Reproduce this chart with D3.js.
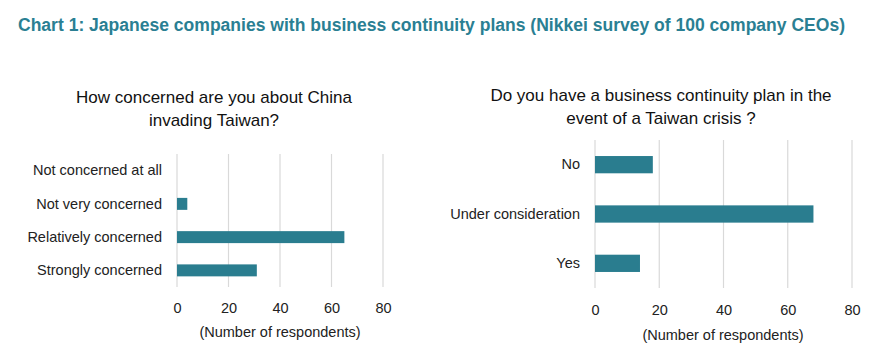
<!DOCTYPE html>
<html><head><meta charset="utf-8">
<script src="https://cdn.jsdelivr.net/npm/d3@7"></script>
<style>body{margin:0;background:#fff;}svg{display:block;}</style>
</head><body>
<svg id="c" width="876" height="355"></svg>
<script>
const mainTitle = "Chart 1: Japanese companies with business continuity plans (Nikkei survey of 100 company CEOs)";
const leftTitle = ["How concerned are you about China", "invading Taiwan?"];
const leftCategories = ["Not concerned at all", "Not very concerned", "Relatively concerned", "Strongly concerned"];
const leftValues = [0, 4, 65, 31];
const rightTitle = ["Do you have a business continuity plan in the", "event of a Taiwan crisis ?"];
const rightCategories = ["No", "Under consideration", "Yes"];
const rightValues = [18, 68, 14];
const xTicks = [0, 20, 40, 60, 80];
const axisTitle = "(Number of respondents)";

const svg = d3.select("#c");
const barColor = "#2a7d8f";
const font = "Liberation Sans, Arial, sans-serif";

const t = svg.append("text").attr("x", 18).attr("y", 31)
  .attr("font-family", "'Liberation Sans Narrow', 'Arial Narrow', 'Liberation Sans', Arial, sans-serif")
  .attr("font-weight", "bold").attr("font-size", 18).attr("fill", "#2a7f93")
  .text(mainTitle);
const tl = t.node().getComputedTextLength();
if (Math.abs(tl - 827) > 3) t.attr("textLength", 827).attr("lengthAdjust", "spacingAndGlyphs");

function panel(cfg) {
  const g = svg.append("g");
  const x = d3.scaleLinear().domain([0, 80]).range([cfg.x0, cfg.x1]);
  const y = d3.scaleBand().domain(cfg.cats).range([cfg.y0, cfg.y1]).paddingInner(cfg.pad).paddingOuter(cfg.pad / 2);
  g.selectAll("line.grid").data(xTicks).join("line")
    .attr("x1", d => x(d)).attr("x2", d => x(d))
    .attr("y1", cfg.y0).attr("y2", cfg.y1)
    .attr("stroke", "#d9d9d9").attr("stroke-width", 1.2);
  g.selectAll("rect").data(cfg.vals).join("rect")
    .attr("x", x(0)).attr("y", (d, i) => y(cfg.cats[i]))
    .attr("width", d => x(d) - x(0)).attr("height", y.bandwidth())
    .attr("fill", barColor);
  const ax = g.append("g").attr("transform", `translate(0,${cfg.tickY})`)
    .call(d3.axisBottom(x).tickValues(xTicks).tickSize(0).tickPadding(0));
  ax.select(".domain").remove();
  ax.selectAll("text").attr("font-family", font).attr("font-size", 14.5).attr("fill", "#222").attr("dy", "0.35em").attr("y", 0);
  const ay = g.append("g").attr("transform", `translate(${cfg.labelX},0)`)
    .call(d3.axisLeft(y).tickSize(0).tickPadding(0));
  ay.select(".domain").remove();
  ay.selectAll("text").attr("font-family", font).attr("font-size", 14.5).attr("fill", "#222");
  g.append("text").attr("x", cfg.axTitleX).attr("y", cfg.axTitleY).attr("dy", "0.35em")
    .attr("text-anchor", "middle").attr("font-family", font).attr("font-size", 14.5).attr("fill", "#222")
    .text(axisTitle);
  g.selectAll("text.ptitle").data(cfg.title).join("text").attr("class", "ptitle")
    .attr("x", cfg.titleX).attr("y", (d, i) => cfg.titleY + i * 23.5).attr("dy", "0.35em")
    .attr("text-anchor", "middle").attr("font-family", font).attr("font-size", 17).attr("fill", "#111")
    .text(d => d);
}

panel({cats: leftCategories, vals: leftValues, x0: 177, x1: 383, y0: 154, y1: 287, pad: 0.64,
  tickY: 308, labelX: 162, axTitleX: 280, axTitleY: 331.5, title: leftTitle, titleX: 214, titleY: 97});
panel({cats: rightCategories, vals: rightValues, x0: 595, x1: 852, y0: 140, y1: 288, pad: 0.65,
  tickY: 310, labelX: 580, axTitleX: 723, axTitleY: 335, title: rightTitle, titleX: 661, titleY: 95});
</script>
</body></html>
